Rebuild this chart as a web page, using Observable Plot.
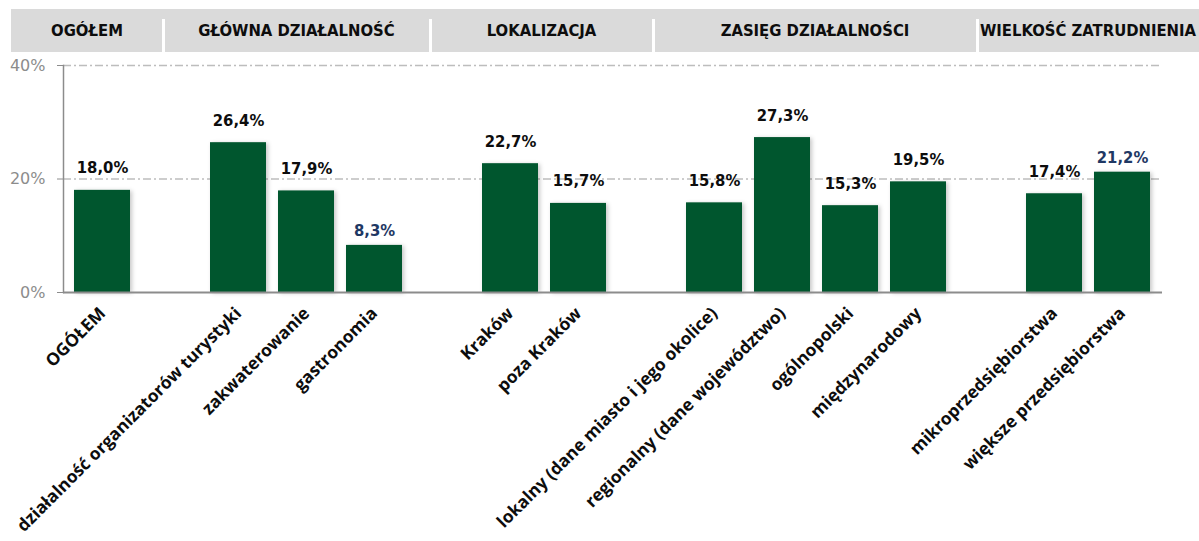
<!DOCTYPE html>
<html>
<head>
<meta charset="utf-8">
<script src="https://cdn.jsdelivr.net/npm/d3@7"></script>
<script src="https://cdn.jsdelivr.net/npm/@observablehq/plot@0.6"></script>
<style>
  html, body { margin: 0; padding: 0; background: #fff; overflow: hidden; }
  #wrap { width: 1199px; }
  #header { position: relative; margin-top: 9px; margin-left: 11px; height: 43px; background: #dadada; display: flex; }
  .cell { position: relative; height: 43px; line-height: 43px; text-align: center; white-space: nowrap;
          font-family: "DejaVu Sans Condensed", "DejaVu Sans", sans-serif; font-weight: bold; font-size: 16.5px; color: #0d0d0d; }
  .cell.div::before { content: ""; position: absolute; left: -1.5px; top: 10px; bottom: 0; width: 3px; background: #fff; }
  g[aria-label="bar"] rect { filter: drop-shadow(2px 1px 2px rgba(0,0,0,0.22)); }
</style>
</head>
<body>
<div id="wrap">
  <div id="header"></div>
  <div id="chart"></div>
</div>
<script>
// ---- data ----
const groups = ["OGÓŁEM", "GŁÓWNA DZIAŁALNOŚĆ", "LOKALIZACJA", "ZASIĘG DZIAŁALNOŚCI", "WIELKOŚĆ ZATRUDNIENIA"];
const categories = [
  "OGÓŁEM",
  "działalność organizatorów turystyki", "zakwaterowanie", "gastronomia",
  "Kraków", "poza Kraków",
  "lokalny (dane miasto i jego okolice)", "regionalny (dane województwo)", "ogólnopolski", "międzynarodowy",
  "mikroprzedsiębiorstwa", "większe przedsiębiorstwa"
];
const categoryGroup = [
  "OGÓŁEM",
  "GŁÓWNA DZIAŁALNOŚĆ", "GŁÓWNA DZIAŁALNOŚĆ", "GŁÓWNA DZIAŁALNOŚĆ",
  "LOKALIZACJA", "LOKALIZACJA",
  "ZASIĘG DZIAŁALNOŚCI", "ZASIĘG DZIAŁALNOŚCI", "ZASIĘG DZIAŁALNOŚCI", "ZASIĘG DZIAŁALNOŚCI",
  "WIELKOŚĆ ZATRUDNIENIA", "WIELKOŚĆ ZATRUDNIENIA"
];
const values = [18.0, 26.4, 17.9, 8.3, 22.7, 15.7, 15.8, 27.3, 15.3, 19.5, 17.4, 21.2];
const yTicks = [0, 20, 40];
const yTickLabels = ["0%", "20%", "40%"];
const highlighted = ["gastronomia", "większe przedsiębiorstwa"];

// ---- build x domain with an empty slot between groups ----
const slots = [];
groups.forEach((g, gi) => {
  if (gi > 0) slots.push("gap" + gi);
  categories.forEach((c, i) => { if (categoryGroup[i] === g) slots.push(c); });
});
const rows = categories.map((c, i) => ({ category: c, value: values[i], label: values[i].toFixed(1).replace(".", ",") + "%" }));

// ---- header row ----
const headerWidths = [152, 267, 223, 324, 222];
const header = document.getElementById("header");
groups.forEach((g, i) => {
  const d = document.createElement("div");
  d.className = "cell" + (i > 0 ? " div" : "");
  d.style.width = headerWidths[i] + "px";
  d.textContent = g;
  header.appendChild(d);
});

const valueFont = { fontFamily: "DejaVu Sans Condensed, DejaVu Sans, sans-serif", fontWeight: "bold", fontSize: 16.5 };

const chart = Plot.plot({
  width: 1199,
  height: 489,
  marginTop: 13,
  marginBottom: 249,
  marginLeft: 63,
  marginRight: 37,
  x: { domain: slots, paddingInner: 0.17, paddingOuter: 0.085, axis: null },
  y: { domain: [0, 40], axis: null },
  marks: [
    Plot.gridY([20, 40], { stroke: "#bdbdbd", strokeOpacity: 1, strokeWidth: 1.3, strokeDasharray: "8,3,2,3" }),
    Plot.barY(rows, { x: "category", y: "value", fill: "#00562e" }),
    Plot.frame({ anchor: "left", stroke: "#8c8c8c", strokeWidth: 1.5 }),
    Plot.ruleY([0], { stroke: "#8c8c8c", strokeWidth: 2 }),
    Plot.axisY(yTicks, {
      tickFormat: (d) => yTickLabels[yTicks.indexOf(d)],
      tickSize: 6, tickPadding: 12, stroke: "#8c8c8c", fill: "#8c8c8c",
      fontSize: 16, fontFamily: "DejaVu Sans, sans-serif", label: null
    }),
    Plot.axisX({
      tickRotate: -45, tickSize: 0, tickPadding: 18, dx: 0,
      tickFormat: (d) => (String(d).startsWith("gap") ? "" : d),
      fontSize: 17.3, fontFamily: "Open Sans, sans-serif", fontWeight: "bold", fill: "#0d0d0d", label: null
    }),
    Plot.text(rows.filter((r) => !highlighted.includes(r.category)), {
      x: "category", y: "value", text: "label", lineAnchor: "bottom", dy: -17, fill: "#0d0d0d", ...valueFont
    }),
    Plot.text(rows.filter((r) => highlighted.includes(r.category)), {
      x: "category", y: "value", text: "label", lineAnchor: "bottom", dy: -9, fill: "#1f3864", ...valueFont
    })
  ]
});
document.getElementById("chart").appendChild(chart);
</script>
</body>
</html>
